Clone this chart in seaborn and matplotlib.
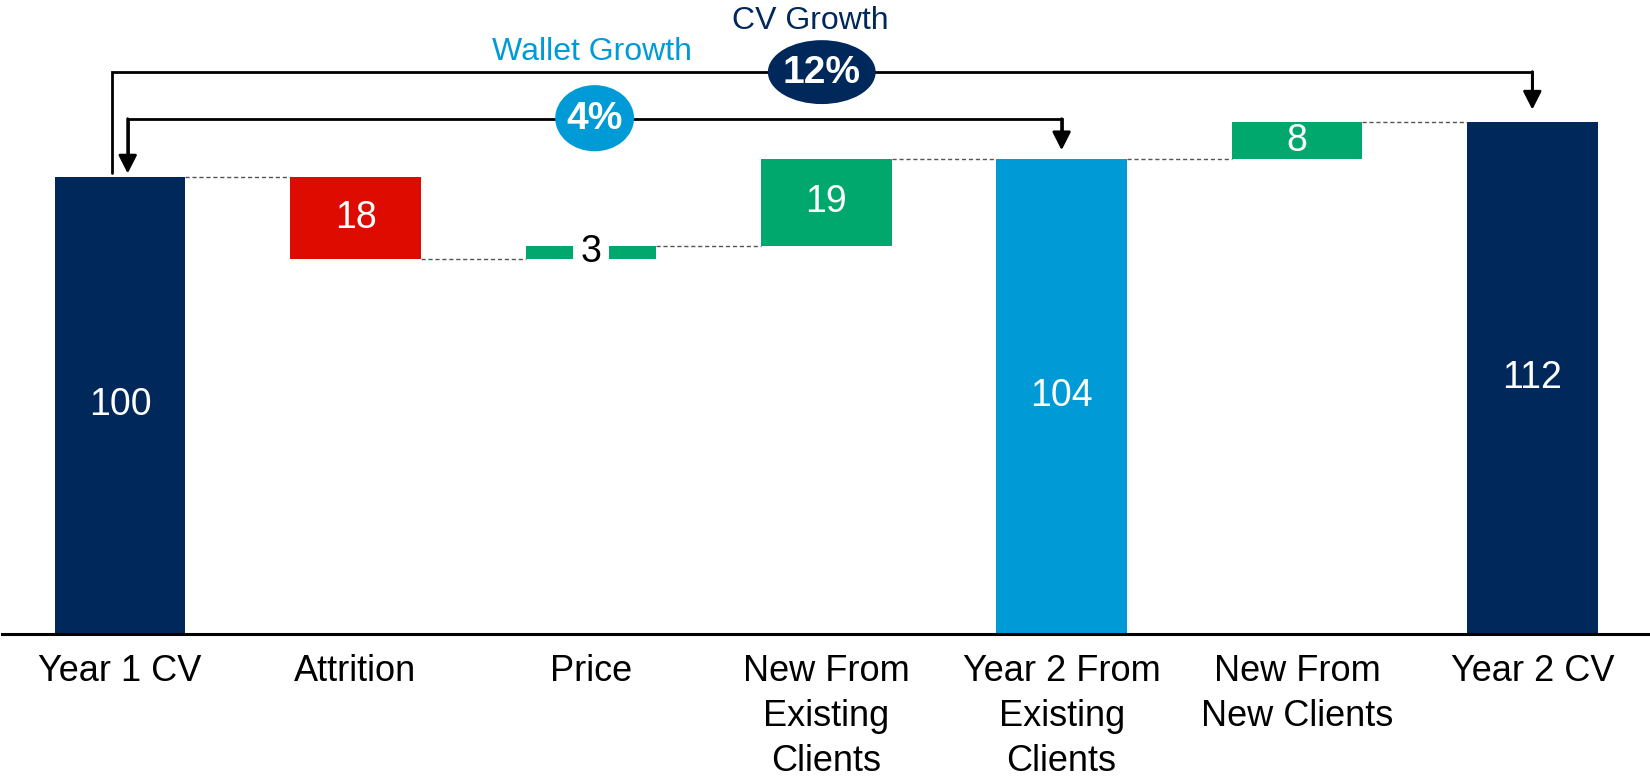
import matplotlib
matplotlib.use("Agg")
import matplotlib.pyplot as plt
from matplotlib.patches import Ellipse
import seaborn as sns
import pandas as pd
import numpy as np

# --- data -------------------------------------------------------------
categories = ["Year 1 CV", "Attrition", "Price", "New From\nExisting\nClients",
              "Year 2 From\nExisting\nClients", "New From\nNew Clients", "Year 2 CV"]
changes = [100, -18, 3, 19, None, 8, None]     # None = running total column
kinds = ["total", "neg", "pos", "pos", "subtotal", "pos", "total"]
wallet_growth_label = "4%"
cv_growth_label = "12%"

NAVY = "#00285A"
BLUE = "#009BD7"
RED = "#DE0B00"
GREEN = "#00A86E"
kind_colors = {"total": NAVY, "subtotal": BLUE, "neg": RED, "pos": GREEN}

# --- waterfall geometry from the values -------------------------------
bottoms, heights, labels, levels = [], [], [], []
running = 0
for ch, kind in zip(changes, kinds):
    if kind == "total" and ch is not None:
        running = ch
        bottoms.append(0); heights.append(ch); labels.append(ch)
    elif ch is None:
        bottoms.append(0); heights.append(running); labels.append(running)
    elif ch >= 0:
        bottoms.append(running); heights.append(ch); labels.append(ch)
        running += ch
    else:
        running += ch
        bottoms.append(running); heights.append(-ch); labels.append(-ch)
    levels.append(running)

df = pd.DataFrame({"category": categories, "height": heights})

sns.set_theme(style="white")
plt.rcParams["font.family"] = ["Liberation Sans", "DejaVu Sans"]

fig = plt.figure(figsize=(16.5, 7.8), dpi=100)
ax = fig.add_axes([0.0015, 0.1878, 0.9985, 0.8122])

BAR_W = 0.555
sns.barplot(data=df, x="category", y="height", ax=ax, width=BAR_W, color=NAVY,
            saturation=1, bottom=bottoms, order=categories, errorbar=None)
for patch, kind in zip(ax.patches, kinds):
    patch.set_facecolor(kind_colors[kind])
    patch.set_edgecolor("none")

ax.set_xlim(-0.5, len(categories) - 0.5)
ax.set_ylim(0, 138.8)

# value labels
for i, (b, h, lab, kind) in enumerate(zip(bottoms, heights, labels, kinds)):
    y = b + h / 2
    if h < 6:
        ax.text(i, y, f"{lab}", ha="center", va="center", fontsize=27, color="black",
                zorder=5, bbox=dict(boxstyle="square,pad=0.2", fc="white", ec="none"))
    else:
        ax.text(i, y, f"{lab}", ha="center", va="center", fontsize=27, color="white", zorder=5)

# dashed connectors between neighbouring columns
for i in range(len(categories) - 1):
    ax.plot([i + BAR_W / 2, i + 1 - BAR_W / 2], [levels[i], levels[i]],
            color="#555555", lw=1.0, ls=(0, (3, 2)), zorder=1)

# growth brackets
arrow_kw = dict(arrowstyle="-|>,head_length=0.55,head_width=0.28", color="black",
                lw=2, shrinkA=0, shrinkB=0, mutation_scale=20)

cv_y, wallet_y = 123.1, 112.8
left_tip = 100.8
# CV growth: Year 1 CV -> Year 2 CV
ax.plot([-0.034, -0.034, 6, 6], [left_tip, cv_y, cv_y, 114.8 + 3], color="black", lw=2,
        solid_joinstyle="miter", zorder=3)
ax.annotate("", xy=(6, 114.8), xytext=(6, cv_y), arrowprops=arrow_kw, zorder=3)
# Wallet growth: Year 2 existing -> Year 1 CV
ax.plot([4, 4, 0.032, 0.032], [105.9 + 3, wallet_y, wallet_y, left_tip + 3], color="black",
        lw=2, solid_joinstyle="miter", zorder=3)
ax.annotate("", xy=(0.032, left_tip), xytext=(0.032, wallet_y), arrowprops=arrow_kw, zorder=3)
ax.annotate("", xy=(4, 105.9), xytext=(4, wallet_y), arrowprops=arrow_kw, zorder=3)

ax.add_patch(Ellipse((2.981, 123.0), 0.458, 14.0, fc=NAVY, ec="none", zorder=4))
ax.text(2.981, 122.8, cv_growth_label, ha="center", va="center", fontsize=28,
        fontweight="bold", color="white", zorder=5)
ax.add_patch(Ellipse((2.016, 112.9), 0.335, 14.5, fc=BLUE, ec="none", zorder=4))
ax.text(2.016, 112.7, wallet_growth_label, ha="center", va="center", fontsize=28,
        fontweight="bold", color="white", zorder=5)

ax.text(2.932, 132.4, "CV Growth", ha="center", va="baseline", fontsize=23, color=NAVY)
ax.text(2.004, 125.6, "Wallet Growth", ha="center", va="baseline", fontsize=23, color=BLUE)

# axes styling
ax.set_xlabel(""); ax.set_ylabel("")
ax.set_yticks([])
for side in ["left", "right", "top"]:
    ax.spines[side].set_visible(False)
ax.spines["bottom"].set_color("black")
ax.spines["bottom"].set_linewidth(2.2)
ax.spines["bottom"].set_zorder(6)
ax.tick_params(axis="x", length=0, pad=14.5, labelsize=26, labelcolor="black")
for t in ax.get_xticklabels():
    t.set_linespacing(1.37)
    t.set_multialignment("center")

fig.savefig("out.png", dpi=100)
